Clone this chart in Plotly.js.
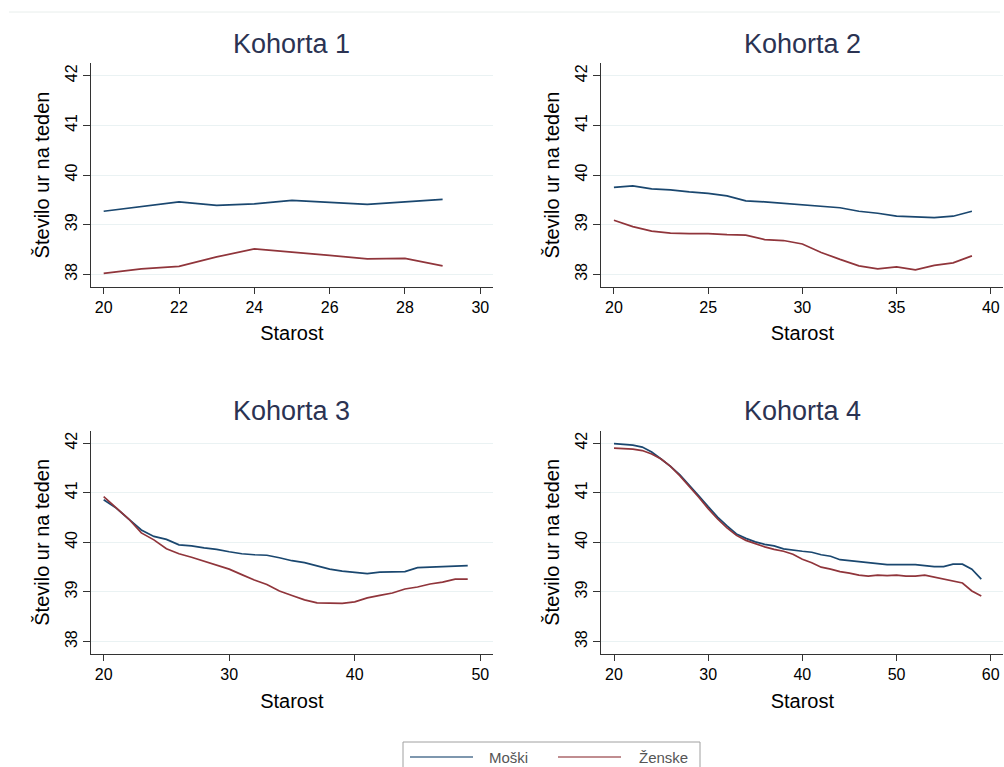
<!DOCTYPE html>
<html>
<head>
<meta charset="utf-8">
<script src="https://cdn.plot.ly/plotly-3.0.1.min.js"></script>
<style>
  html, body { margin: 0; padding: 0; background: #ffffff; }
  #chart { width: 1004px; height: 767px; }
</style>
</head>
<body>
<div id="chart"></div>
<script>
// Average weekly working hours by age, men vs women, for four birth cohorts
const panelTitles = ["Kohorta 1", "Kohorta 2", "Kohorta 3", "Kohorta 4"];
const seriesNames = ["Moški", "Ženske"];
const xTitle = "Starost";
const yTitle = "Število ur na teden";
const yTicks = [38, 39, 40, 41, 42];

const age1 = [20, 21, 22, 23, 24, 25, 26, 27, 28, 29];
const moski1 = [39.27, 39.36, 39.46, 39.39, 39.42, 39.49, 39.45, 39.41, 39.46, 39.51];
const zenske1 = [38.02, 38.11, 38.16, 38.35, 38.51, 38.45, 38.38, 38.31, 38.32, 38.17];

const age2 = [20, 21, 22, 23, 24, 25, 26, 27, 28, 29, 30, 31, 32, 33, 34, 35, 36, 37, 38, 39];
const moski2 = [39.75, 39.78, 39.72, 39.70, 39.66, 39.63, 39.58, 39.48, 39.46, 39.43,
                39.41, 39.38, 39.34, 39.27, 39.23, 39.17, 39.15, 39.14, 39.17, 39.27];
const zenske2 = [39.09, 38.96, 38.87, 38.83, 38.82, 38.82, 38.80, 38.79, 38.70, 38.68,
                 38.61, 38.44, 38.30, 38.17, 38.11, 38.15, 38.09, 38.18, 38.23, 38.37];

const age3 = [20, 21, 22, 23, 24, 25, 26, 27, 28, 29, 30, 31, 32, 33, 34,
              35, 36, 37, 38, 39, 40, 41, 42, 43, 44, 45, 46, 47, 48, 49];
const moski3 = [40.86, 40.69, 40.47, 40.25, 40.12, 40.06, 39.95, 39.93, 39.89, 39.86,
                39.81, 39.77, 39.75, 39.74, 39.69, 39.63, 39.59, 39.53, 39.46, 39.42,
                39.40, 39.37, 39.40, 39.40, 39.41, 39.49, 39.50, 39.50, 39.52, 39.53];
const zenske3 = [40.92, 40.70, 40.47, 40.19, 40.05, 39.87, 39.77, 39.70, 39.62, 39.55,
                 39.46, 39.35, 39.24, 39.15, 39.02, 38.93, 38.84, 38.78, 38.77, 38.77,
                 38.80, 38.88, 38.93, 38.98, 39.06, 39.10, 39.16, 39.20, 39.26, 39.26];

const age4 = [20, 21, 22, 23, 24, 25, 26, 27, 28, 29, 30, 31, 32, 33, 34, 35, 36, 37, 38, 39,
              40, 41, 42, 43, 44, 45, 46, 47, 48, 49, 50, 51, 52, 53, 54, 55, 56, 57, 58, 59];
const moski4 = [41.99, 41.98, 41.96, 41.92, 41.82, 41.68, 41.53, 41.36, 41.16, 40.94,
                40.72, 40.51, 40.33, 40.17, 40.08, 40.01, 39.96, 39.93, 39.87, 39.84,
                39.82, 39.80, 39.75, 39.72, 39.65, 39.63, 39.61, 39.58, 39.56, 39.55,
                39.55, 39.55, 39.55, 39.53, 39.51, 39.51, 39.56, 39.56, 39.46, 39.26];
const zenske4 = [41.90, 41.89, 41.88, 41.85, 41.78, 41.68, 41.53, 41.34, 41.13, 40.91,
                 40.68, 40.47, 40.29, 40.14, 40.04, 39.97, 39.91, 39.86, 39.82, 39.76,
                 39.66, 39.59, 39.50, 39.46, 39.41, 39.38, 39.34, 39.32, 39.34, 39.33,
                 39.34, 39.32, 39.32, 39.34, 39.30, 39.26, 39.23, 39.18, 39.02, 38.92];

const ages = [age1, age2, age3, age4];
const moski = [moski1, moski2, moski3, moski4];
const zenske = [zenske1, zenske2, zenske3, zenske4];
const xTickStep = [2, 5, 10, 10];
const xRanges = [[19.663, 30.33], [19.33, 40.67], [18.99, 50.99], [18.65, 61.35]];

const colors = ["#1a476f", "#90353b"];
const font = "Arial, 'Liberation Sans', sans-serif";

// pixel geometry of the 2x2 grid
const W = 1004, H = 767;
const colX = [[91, 492.7], [601.3, 1003.4]];
const rowY = [[63.3, 286.7], [430.7, 654]];

const traces = [];
const layout = {
  width: W, height: H,
  margin: {l: 0, r: 0, t: 0, b: 0},
  paper_bgcolor: "#ffffff",
  plot_bgcolor: "#ffffff",
  showlegend: false,
  font: {family: font, color: "#000000"},
  annotations: [],
  shapes: []
};

for (let i = 0; i < 4; i++) {
  const col = i % 2, row = Math.floor(i / 2);
  const n = i === 0 ? "" : String(i + 1);
  const xa = "x" + n, ya = "y" + n;
  const xd = [colX[col][0] / W, colX[col][1] / W];
  const yd = [1 - rowY[row][1] / H, 1 - rowY[row][0] / H];

  traces.push({
    x: ages[i], y: moski[i], type: "scatter", mode: "lines", name: seriesNames[0],
    xaxis: xa, yaxis: ya, line: {color: colors[0], width: 1.7}
  });
  traces.push({
    x: ages[i], y: zenske[i], type: "scatter", mode: "lines", name: seriesNames[1],
    xaxis: xa, yaxis: ya, line: {color: colors[1], width: 1.7}
  });

  layout["xaxis" + n] = {
    domain: xd, anchor: ya, range: xRanges[i],
    tick0: 20, dtick: xTickStep[i],
    showgrid: false, zeroline: false,
    showline: true, linecolor: "#333333", linewidth: 1,
    ticks: "outside", ticklen: 6, tickcolor: "#333333",
    tickfont: {size: 16, color: "#000000"},
    title: {text: xTitle, font: {size: 20, color: "#000000"}, standoff: 11}
  };
  layout["yaxis" + n] = {
    domain: yd, anchor: xa, range: [37.75, 42.25],
    tickvals: yTicks, tickangle: -90,
    showgrid: true, gridcolor: "#eaf2f3", gridwidth: 1, zeroline: false,
    showline: true, linecolor: "#333333", linewidth: 1,
    ticks: "outside", ticklen: 7, tickcolor: "#333333",
    tickfont: {size: 16, color: "#000000"},
    title: {text: yTitle, font: {size: 20, color: "#000000"}, standoff: 7}
  };

  layout.annotations.push({
    text: panelTitles[i], xref: "paper", yref: "paper",
    x: (xd[0] + xd[1]) / 2, y: 1 - (row === 0 ? 44 : 411) / H,
    xanchor: "center", yanchor: "middle", showarrow: false,
    font: {size: 27, color: "#2b3352", family: font}
  });
}

// faint rule along the top
layout.shapes.push({
  type: "line", xref: "paper", yref: "paper",
  x0: 9 / W, x1: 1000 / W, y0: 1 - 12 / H, y1: 1 - 12 / H,
  line: {color: "#e8eeec", width: 1}
});

// legend box with keys
layout.shapes.push({
  type: "rect", xref: "paper", yref: "paper",
  x0: 403 / W, x1: 700 / W, y0: -0.02, y1: 1 - 742 / H,
  line: {color: "#a0a0a0", width: 1}, fillcolor: "rgba(0,0,0,0)"
});
const keyX = [[410, 473], [558, 621]];
const labelX = [487, 637];
for (let k = 0; k < 2; k++) {
  layout.shapes.push({
    type: "line", xref: "paper", yref: "paper",
    x0: keyX[k][0] / W, x1: keyX[k][1] / W, y0: 1 - 757 / H, y1: 1 - 757 / H,
    line: {color: colors[k], width: 1.7}, opacity: 0.75
  });
  layout.annotations.push({
    text: seriesNames[k], xref: "paper", yref: "paper",
    x: labelX[k] / W, y: 1 - 757 / H, xanchor: "left", yanchor: "middle",
    showarrow: false, font: {size: 15, color: "#555555", family: font}
  });
}

Plotly.newPlot("chart", traces, layout, {displayModeBar: false, staticPlot: true});
</script>
</body>
</html>
